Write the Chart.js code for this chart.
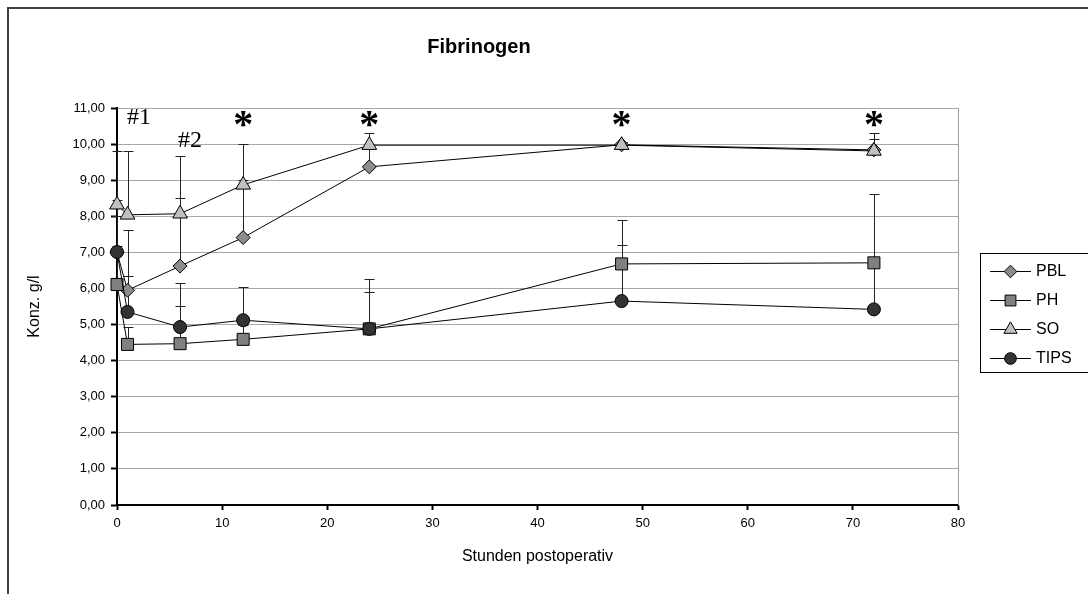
<!DOCTYPE html>
<html>
<head>
<meta charset="utf-8">
<script src="https://cdn.jsdelivr.net/npm/chart.js@4/dist/chart.umd.min.js"></script>
<style>
  html, body { margin: 0; padding: 0; background: #fff; }
  #wrap { width: 1088px; height: 594px; }
</style>
</head>
<body>
<div id="wrap"><canvas id="fib" width="1088" height="594"></canvas></div>
<script>
// Stunden postoperativ
const hours = [0, 1, 6, 12, 24, 48, 72];

// mean values (g/l)
const pblValues = [7.00, 5.95, 6.62, 7.41, 9.37, 9.98, 9.84];
const phValues = [6.11, 4.45, 4.47, 4.59, 4.88, 6.68, 6.71];
const soValues = [8.32, 8.04, 8.07, 8.87, 9.97, 9.97, 9.81];
const tipsValues = [7.01, 5.35, 4.93, 5.12, 4.88, 5.65, 5.42];

// upper end of the error bars (plus only)
const pblUpper = [8.45, 7.62, 8.50, 9.00, 9.90, 10.05, 10.15];
const phUpper = [8.00, 4.93, 5.52, 5.00, 5.89, 7.91, 8.61];
const soUpper = [9.80, 9.80, 9.68, 9.99, 10.31, 10.05, 10.31];
const tipsUpper = [7.18, 6.35, 6.16, 6.05, 6.25, 7.20, 6.70];

// significance marks
const hashLabels = ['#1', '#2'];
const hashX = [2.1, 6.95];
const hashY = [10.57, 9.93];
const starX = [12, 24, 48, 72];
const starY = 10.2;

const sansFont = 'Liberation Sans, Arial, sans-serif';
const serifFont = 'Liberation Serif, Times New Roman, serif';

function toPoints(values) {
    return hours.map((h, i) => ({ x: h, y: values[i] }));
}

function formatComma(value) {
    return value.toFixed(2).replace('.', ',');
}

const seriesStyle = [
    { label: 'PBL', values: pblValues, upper: pblUpper, shape: 'rectRot', radius: 7, fill: '#8c8c8c', order: 4 },
    { label: 'PH', values: phValues, upper: phUpper, shape: 'rect', radius: 8.5, fill: '#808080', order: 3 },
    { label: 'SO', values: soValues, upper: soUpper, shape: 'triangle', radius: 8.5, fill: '#c0c0c0', order: 2 },
    { label: 'TIPS', values: tipsValues, upper: tipsUpper, shape: 'circle', radius: 6.5, fill: '#333333', order: 1 }
];

const datasets = seriesStyle.map(s => ({
    label: s.label,
    data: toPoints(s.values),
    borderColor: '#000',
    borderWidth: 1,
    pointStyle: s.shape,
    pointRadius: s.radius,
    pointBackgroundColor: s.fill,
    pointBorderColor: '#000',
    pointBorderWidth: 1,
    tension: 0,
    fill: false,
    clip: false,
    order: s.order
}));

// error bars behind the markers
const errorBars = {
    id: 'errorBars',
    beforeDatasetsDraw(chart) {
        const ctx = chart.ctx;
        const xs = chart.scales.x, ys = chart.scales.y;
        ctx.save();
        ctx.strokeStyle = '#222';
        ctx.lineWidth = 1;
        seriesStyle.forEach(s => {
            hours.forEach((h, i) => {
                const x = Math.round(xs.getPixelForValue(h)) + 0.5;
                const y0 = ys.getPixelForValue(s.values[i]);
                const y1 = Math.round(ys.getPixelForValue(s.upper[i])) + 0.5;
                ctx.beginPath();
                ctx.moveTo(x, y0);
                ctx.lineTo(x, y1);
                ctx.moveTo(x - 5, y1);
                ctx.lineTo(x + 5, y1);
                ctx.stroke();
            });
        });
        ctx.restore();
    }
};

function drawMarker(ctx, shape, r, x, y) {
    ctx.beginPath();
    if (shape === 'circle') {
        ctx.arc(x, y, r, 0, Math.PI * 2);
    } else if (shape === 'rect') {
        const h = r * Math.SQRT1_2;
        ctx.rect(x - h, y - h, 2 * h, 2 * h);
    } else if (shape === 'rectRot') {
        ctx.moveTo(x, y - r);
        ctx.lineTo(x + r, y);
        ctx.lineTo(x, y + r);
        ctx.lineTo(x - r, y);
        ctx.closePath();
    } else if (shape === 'triangle') {
        for (let k = 0; k < 3; k++) {
            const a = k * 2 * Math.PI / 3;
            const px = x + Math.sin(a) * r, py = y - Math.cos(a) * r;
            if (k === 0) ctx.moveTo(px, py); else ctx.lineTo(px, py);
        }
        ctx.closePath();
    }
    ctx.fill();
    ctx.stroke();
}

const decorations = {
    id: 'decorations',
    afterDraw(chart) {
        const ctx = chart.ctx;
        const area = chart.chartArea;
        const xs = chart.scales.x, ys = chart.scales.y;
        ctx.save();

        // plot area right border
        ctx.strokeStyle = '#a0a0a0';
        ctx.lineWidth = 1;
        ctx.beginPath();
        ctx.moveTo(Math.round(area.right) + 0.5, area.top);
        ctx.lineTo(Math.round(area.right) + 0.5, area.bottom);
        ctx.stroke();

        // outer frame (open to the right and bottom)
        ctx.strokeStyle = '#404040';
        ctx.lineWidth = 2;
        ctx.beginPath();
        ctx.moveTo(8, 594);
        ctx.lineTo(8, 8);
        ctx.lineTo(1088, 8);
        ctx.stroke();

        // annotations
        ctx.fillStyle = '#000';
        ctx.textAlign = 'center';
        ctx.textBaseline = 'alphabetic';
        ctx.font = '24px ' + serifFont;
        hashLabels.forEach((t, i) => {
            ctx.fillText(t, xs.getPixelForValue(hashX[i]), ys.getPixelForValue(hashY[i]));
        });
        ctx.font = 'bold 40px ' + serifFont;
        starX.forEach(h => {
            ctx.fillText('*', xs.getPixelForValue(h), ys.getPixelForValue(starY));
        });

        // legend
        const lx = 980, ly = 253, lh = 119;
        ctx.strokeStyle = '#000';
        ctx.lineWidth = 1;
        ctx.strokeRect(lx + 0.5, ly + 0.5, 140, lh);
        ctx.font = '16px ' + sansFont;
        ctx.textAlign = 'left';
        ctx.textBaseline = 'middle';
        seriesStyle.forEach((s, i) => {
            const y = ly + 18 + i * 29;
            ctx.strokeStyle = '#000';
            ctx.lineWidth = 1;
            ctx.beginPath();
            ctx.moveTo(990, y + 0.5);
            ctx.lineTo(1031, y + 0.5);
            ctx.stroke();
            ctx.fillStyle = s.fill;
            drawMarker(ctx, s.shape, s.radius * 0.9, 1010.5, y + 0.5);
            ctx.fillStyle = '#000';
            ctx.fillText(s.label, 1036, y + 1);
        });
        ctx.restore();
    }
};

Chart.defaults.font.family = sansFont;
Chart.defaults.color = '#000';

new Chart(document.getElementById('fib'), {
    type: 'line',
    data: { datasets: datasets },
    options: {
        animation: false,
        responsive: false,
        layout: { padding: { left: 0, right: 130, top: 0, bottom: 0 } },
        scales: {
            x: {
                type: 'linear',
                min: 0,
                max: 80,
                ticks: { stepSize: 10, font: { size: 13 }, padding: 6, color: '#000' },
                grid: { drawOnChartArea: false, tickLength: 5, tickColor: '#000', tickWidth: 2 },
                border: { color: '#000', width: 2 },
                title: { display: true, text: 'Stunden postoperativ', font: { size: 16 }, padding: { top: 0, bottom: 28 } },
                afterFit: scale => { scale.height = 89; }
            },
            y: {
                min: 0,
                max: 11,
                ticks: { stepSize: 1, font: { size: 13 }, padding: 6, color: '#000', callback: v => formatComma(v) },
                grid: { color: '#a8a8a8', lineWidth: 1, tickLength: 6, tickColor: '#000', tickWidth: 2 },
                border: { color: '#000', width: 2 },
                title: { display: true, text: 'Konz. g/l', font: { size: 16 }, padding: { top: 25, bottom: 0 } },
                afterFit: scale => { scale.width = 117; }
            }
        },
        plugins: {
            legend: { display: false },
            tooltip: { enabled: false },
            title: {
                display: true,
                text: 'Fibrinogen',
                font: { size: 20, weight: 'bold' },
                color: '#000',
                padding: { top: 35, bottom: 49 }
            }
        }
    },
    plugins: [errorBars, decorations]
});
</script>
</body>
</html>
